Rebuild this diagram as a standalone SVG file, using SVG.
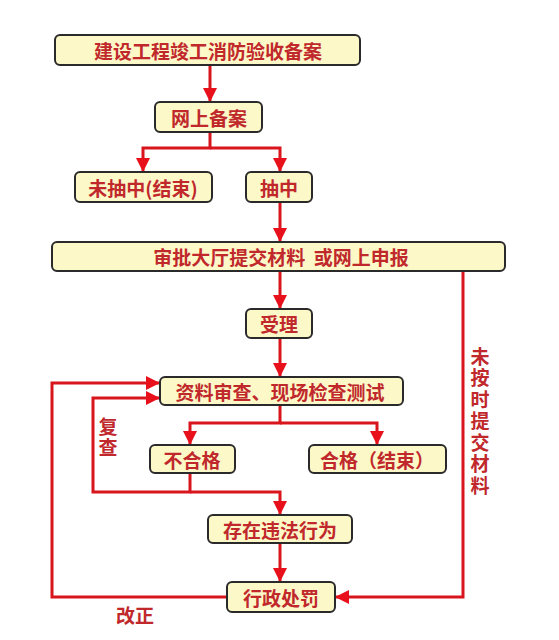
<svg xmlns="http://www.w3.org/2000/svg" width="559" height="640" viewBox="0 0 559 640">
<style>
.box{fill:#fcf8c8;stroke:#2a2a2a;stroke-width:2}
.t{font-family:"Noto Sans CJK SC","Noto Sans",sans-serif;font-size:19px;font-weight:bold;fill:#c0282c;text-anchor:middle;dominant-baseline:central}
.v{font-family:"Noto Sans CJK SC","Noto Sans",sans-serif;font-size:19px;font-weight:bold;fill:#c0282c;writing-mode:vertical-rl;text-anchor:start;letter-spacing:2.5px}
.c{fill:none;stroke:#d8141c;stroke-width:3}
</style>
<defs>
<marker id="ah" markerUnits="userSpaceOnUse" markerWidth="14" markerHeight="14" refX="13" refY="7" orient="auto">
<path d="M0,0 L14,7 L0,14 z" fill="#e8101a"/>
</marker>
</defs>
<rect width="559" height="640" fill="#ffffff"/>
<g id="connectors">
<path class="c" d="M210,65 V101" marker-end="url(#ah)"/>
<path class="c" d="M210,132 V148 H143 V171" marker-end="url(#ah)"/>
<path class="c" d="M210,148 H280 V171" marker-end="url(#ah)"/>
<path class="c" d="M280,202 V241" marker-end="url(#ah)"/>
<path class="c" d="M280,271 V308" marker-end="url(#ah)"/>
<path class="c" d="M280,338 V376" marker-end="url(#ah)"/>
<path class="c" d="M280,405 V423 H190 V444" marker-end="url(#ah)"/>
<path class="c" d="M280,423 H377 V444" marker-end="url(#ah)"/>
<path class="c" d="M190,473 V492 H93 V398 H159" marker-end="url(#ah)"/>
<path class="c" d="M190,492 H280 V514" marker-end="url(#ah)"/>
<path class="c" d="M280,543 V581" marker-end="url(#ah)"/>
<path class="c" d="M227,597 H52 V383 H159" marker-end="url(#ah)"/>
<path class="c" d="M463,271 V597 H336" marker-end="url(#ah)"/>
</g>
<g id="n1"><rect class="box" x="55" y="35" width="305" height="30" rx="5"/><text class="t" x="208" y="50">建设工程竣工消防验收备案</text></g>
<g id="n2"><rect class="box" x="155" y="102" width="107" height="30" rx="5"/><text class="t" x="209" y="117">网上备案</text></g>
<g id="n3"><rect class="box" x="75" y="172" width="137" height="30" rx="5"/><text class="t" x="143" y="187">未抽中(结束)</text></g>
<g id="n4"><rect class="box" x="246" y="172" width="66" height="30" rx="5"/><text class="t" x="279" y="187">抽中</text></g>
<g id="n5"><rect class="box" x="52" y="242" width="453" height="29" rx="5"/><text class="t" x="281" y="256.5" xml:space="preserve">审批大厅提交材料  或网上申报</text></g>
<g id="n6"><rect class="box" x="246" y="309" width="66" height="29" rx="5"/><text class="t" x="279" y="323.5">受理</text></g>
<g id="n7"><rect class="box" x="160" y="377" width="243" height="28" rx="5"/><text class="t" x="280" y="391">资料审查、现场检查测试</text></g>
<g id="n8"><rect class="box" x="150" y="445" width="85" height="28" rx="5"/><text class="t" x="192" y="459">不合格</text></g>
<g id="n9"><rect class="box" x="309" y="445" width="137" height="28" rx="5"/><text class="t" x="377" y="459">合格（结束）</text></g>
<g id="n10"><rect class="box" x="208" y="515" width="144" height="28" rx="5"/><text class="t" x="280" y="529">存在违法行为</text></g>
<g id="n11"><rect class="box" x="227" y="582" width="108" height="30" rx="5"/><text class="t" x="281" y="597">行政处罚</text></g>
<g id="labels">
<text class="t" x="135" y="614">改正</text>
<text class="v" x="108" y="417">复查</text>
<text class="v" x="480" y="347">未按时提交材料</text>
</g>
</svg>
